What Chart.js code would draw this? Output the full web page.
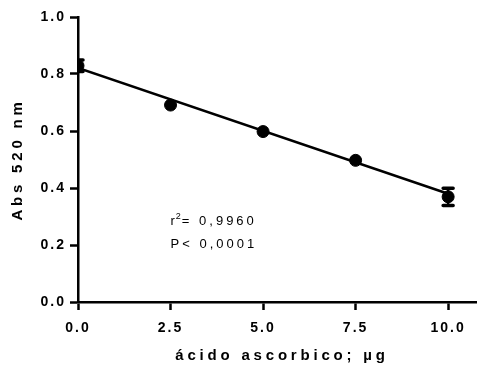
<!DOCTYPE html>
<html>
<head>
<meta charset="utf-8">
<script src="https://cdn.jsdelivr.net/npm/chart.js@4/dist/chart.umd.min.js"></script>
<style>
  html, body { margin: 0; padding: 0; background: #fff; }
  canvas { display: block; }
</style>
</head>
<body>
<canvas id="chart" width="477" height="376"></canvas>
<script>
// data
const acidX = [0, 2.5, 5, 7.5, 10];
const absMean = [0.829, 0.691, 0.598, 0.497, 0.369];
const absErr = [0.020, 0.005, 0.004, 0.004, 0.030];
const fitX = [0, 10];
const fitY = [0.821, 0.380];
const xTicks = [0, 2.5, 5, 7.5, 10];
const xTitle = "ácido ascorbico; µg";
const yTitle = "Abs 520 nm";
const statR2 = "0,9960";
const statP = "0,0001";

const FONT = '"Liberation Sans", Arial, sans-serif';
const DOT = 6;

function spacing(ctx, px) { ctx.letterSpacing = px + "px"; }

const spacingPlugin = {
  id: "spacing",
  beforeLayout(chart) { spacing(chart.ctx, 2); },
  beforeDraw(chart) { spacing(chart.ctx, 2); }
};

// Prism style: bars shorter than the symbol are hidden
const errorBars = {
  id: "errorBars",
  afterDatasetsDraw(chart) {
    const ctx = chart.ctx;
    const xs = chart.scales.x, ys = chart.scales.y;
    const area = chart.chartArea;
    ctx.save();
    ctx.beginPath();
    ctx.rect(area.left, 0, chart.width - area.left, area.bottom);
    ctx.clip();
    ctx.strokeStyle = "#000";
    acidX.forEach((x, i) => {
      const px = xs.getPixelForValue(x);
      const top = ys.getPixelForValue(absMean[i] + absErr[i]);
      const bot = ys.getPixelForValue(absMean[i] - absErr[i]);
      if ((bot - top) / 2 < 3) return;
      ctx.lineCap = "butt";
      ctx.lineWidth = 2.5;
      ctx.beginPath();
      ctx.moveTo(px, top);
      ctx.lineTo(px, bot);
      ctx.stroke();
      ctx.lineCap = "round";
      ctx.lineWidth = 3.5;
      ctx.beginPath();
      ctx.moveTo(px - 5, top);
      ctx.lineTo(px + 5, top);
      ctx.moveTo(px - 5, bot);
      ctx.lineTo(px + 5, bot);
      ctx.stroke();
    });
    ctx.restore();
  }
};

const labels = {
  id: "labels",
  afterDraw(chart) {
    const ctx = chart.ctx;
    const xs = chart.scales.x, ys = chart.scales.y;
    const area = chart.chartArea;
    ctx.save();
    ctx.fillStyle = "#000";

    // axis titles
    ctx.font = "bold 15px " + FONT;
    spacing(ctx, 3.8);
    ctx.textAlign = "center";
    ctx.textBaseline = "middle";
    ctx.fillText(xTitle, 282, 356);
    ctx.save();
    ctx.translate(18, (area.top + area.bottom) / 2);
    ctx.rotate(-Math.PI / 2);
    ctx.fillText(yTitle, 0, 0);
    ctx.restore();

    // regression stats
    const ax = xs.getPixelForValue(2.5);
    const y1 = ys.getPixelForValue(0.27);
    const y2 = ys.getPixelForValue(0.19);
    ctx.textAlign = "left";
    ctx.textBaseline = "alphabetic";
    ctx.font = "13px " + FONT;
    spacing(ctx, 3);
    ctx.fillText("r", ax, y1);
    let w = ctx.measureText("r").width - 2;
    ctx.font = "9px " + FONT;
    spacing(ctx, 0);
    ctx.fillText("2", ax + w, y1 - 6);
    w += ctx.measureText("2").width + 1;
    ctx.font = "13px " + FONT;
    spacing(ctx, 3);
    ctx.fillText("= " + statR2, ax + w, y1);
    ctx.fillText("P< " + statP, ax, y2);
    ctx.restore();
  }
};

new Chart(document.getElementById("chart"), {
  data: {
    datasets: [
      {
        type: "line",
        data: fitX.map((x, i) => ({ x: x, y: fitY[i] })),
        borderColor: "#000",
        borderWidth: 2.5,
        pointRadius: 0,
        fill: false
      },
      {
        type: "scatter",
        data: acidX.map((x, i) => ({ x: x, y: absMean[i] })),
        backgroundColor: "#000",
        borderColor: "#000",
        pointRadius: DOT,
        pointHoverRadius: DOT,
        clip: { left: 0, top: 10, right: 10, bottom: 0 }
      }
    ]
  },
  options: {
    responsive: false,
    animation: false,
    layout: { autoPadding: false, padding: { top: 17, left: 0, right: 0, bottom: 0 } },
    plugins: { legend: { display: false }, tooltip: { enabled: false } },
    scales: {
      x: {
        type: "linear",
        min: 0,
        max: 10.78,
        afterBuildTicks(scale) { scale.ticks = xTicks.map(v => ({ value: v })); },
        afterFit(scale) { scale.height = 74; },
        border: { display: true, color: "#000", width: 2.5 },
        grid: { drawOnChartArea: false, drawTicks: true, tickLength: 8, tickWidth: 2.5, tickColor: "#000" },
        ticks: {
          color: "#000",
          font: { family: FONT, size: 14, weight: "bold" },
          padding: 10,
          maxRotation: 0,
          callback: v => Number(v).toFixed(1)
        }
      },
      y: {
        min: 0,
        max: 1,
        afterFit(scale) { scale.width = 78; },
        border: { display: true, color: "#000", width: 2.5 },
        grid: { drawOnChartArea: false, drawTicks: true, tickLength: 8, tickWidth: 2.5, tickColor: "#000" },
        ticks: {
          stepSize: 0.2,
          color: "#000",
          font: { family: FONT, size: 14, weight: "bold" },
          padding: 4,
          callback: v => Number(v).toFixed(1)
        }
      }
    }
  },
  plugins: [spacingPlugin, errorBars, labels]
});
</script>
</body>
</html>
